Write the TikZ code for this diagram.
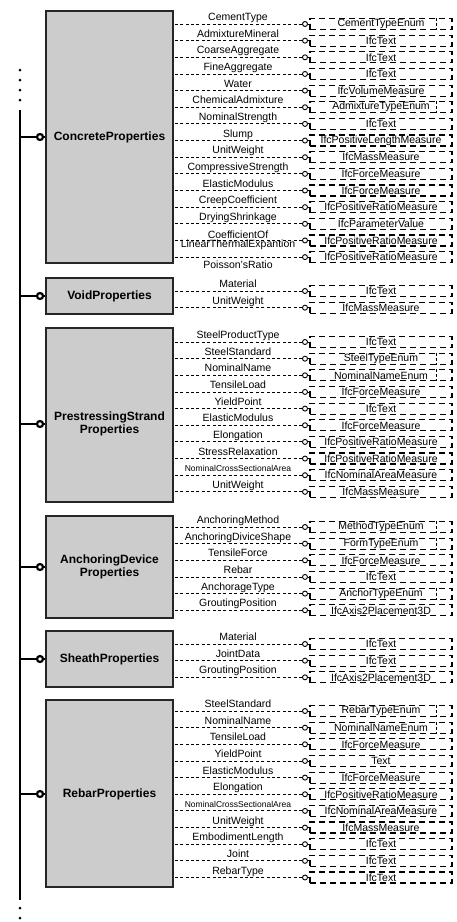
\documentclass[tikz,border=0pt]{standalone}
\usepackage{fontspec}
\setmainfont{Liberation Sans}

\newcommand{\narrowlab}{\fontsize{8.5}{9}\selectfont}

\tikzset{
  grpbox/.style={draw=black!85, line width=1.4pt, fill=black!20, minimum width=127pt, inner sep=0pt},
  grptitle/.style={font=\fontsize{12}{13.5}\selectfont\bfseries, align=center},
  hub/.style={circle, draw, line width=2.2pt, fill=white, minimum size=6pt, inner sep=0pt},
  branch/.style={line width=2.6pt},
  busline/.style={line width=2.8pt},
  busdots/.style={line width=3pt, line cap=round, dash pattern=on 0pt off 10pt},
  port/.style={circle, draw, line width=0.9pt, fill=white, minimum size=5pt, inner sep=0pt},
  attrline/.style={line width=0.9pt, dash pattern=on 3pt off 2.4pt},
  typebox/.style={draw, line width=1.2pt, dash pattern=on 6pt off 4pt, minimum width=142pt,
    minimum height=11pt, inner sep=0pt, font=\fontsize{10.5}{11}\selectfont},
  typeline/.style={line width=1.1pt, dash pattern=on 3pt off 2pt},
  attrlab/.style={inner sep=0pt, align=center, font=\fontsize{10.5}{9.5}\selectfont},
  attrup/.style={anchor=base, yshift=3.5pt},
  attrmid/.style={anchor=center},
  attrdown/.style={anchor=base, yshift=-11.5pt}
}

% rows of one property box: #1 prefix, #2 box node, #3 y of first row, #4 rows
\newcommand{\proprows}[4]{%
  \foreach \lab/\typ/\en/\where [count=\i] in {#4} {
    \pgfmathsetmacro{\yy}{#3+(\i-1)*16.65}
    \node[port] (#1c\i) at (305,\yy) {};
    \node[typebox] (#1t\i) at (381,\yy) {\typ};
    \node[attrlab,\where] (#1l\i) at (238,\yy) {\lab};
    \draw[attrline] (#1c\i) -- (#1c\i -| #2.east);
    \draw[line width=0.9pt] (#1c\i) -- (#1t\i);
    \ifnum\en=1
      \draw[typeline] ([xshift=-16pt]#1t\i.north east) -- ([xshift=-16pt]#1t\i.south east);
    \fi
  }}

\begin{document}
\begin{tikzpicture}[x=1pt, y=-1pt]
  \useasboundingbox (0,0) rectangle (456,922);

  % bus
  \coordinate (dottop) at (20,70);
  \coordinate (dotend) at (20,101);
  \coordinate (bustop) at (20,110);
  \coordinate (busbot) at (20,900);
  \coordinate (dotlow) at (20,908);
  \coordinate (dotbot) at (20,919);
  \draw[busdots] (dottop) -- (dotend);
  \draw[busline] (bustop) -- (busbot);
  \draw[busdots] (dotlow) -- (dotbot);

  % property boxes
  \node[grpbox, minimum height=252pt] (concrete) at (109.5,137) {};
  \node[grpbox, minimum height=36pt] (void) at (109.5,296) {};
  \node[grpbox, minimum height=174pt] (strand) at (109.5,415) {};
  \node[grpbox, minimum height=102pt] (anchor) at (109.5,567) {};
  \node[grpbox, minimum height=56pt] (sheath) at (109.5,659) {};
  \node[grpbox, minimum height=187pt] (rebar) at (109.5,793.5) {};

  \node[grptitle] (concretetitle) at (109.5,137) {ConcreteProperties};
  \node[grptitle] (voidtitle) at (109.5,296) {VoidProperties};
  \node[grptitle] (strandtitle) at (109.5,424) {PrestressingStrand\\Properties};
  \node[grptitle] (anchortitle) at (109.5,567) {AnchoringDevice\\Properties};
  \node[grptitle] (sheathtitle) at (109.5,659) {SheathProperties};
  \node[grptitle] (rebartitle) at (109.5,794) {RebarProperties};

  % branches to the bus
  \foreach \g/\y in {concrete/137, void/296, strand/424, anchor/567, sheath/659, rebar/794} {
    \node[hub] (\g hub) at (40,\y) {};
    \draw[branch] (\g hub) -- (\g hub -| bustop);
    \draw[branch] (\g hub) -- (\g hub -| \g.west);
  }

  % attributes
  \proprows{cp}{concrete}{24}{CementType/CementTypeEnum/1/attrup,
    AdmixtureMineral/IfcText/0/attrup,
    CoarseAggregate/IfcText/0/attrup,
    FineAggregate/IfcText/0/attrup,
    Water/IfcVolumeMeasure/0/attrup,
    ChemicalAdmixture/AdmixtureTypeEnum/1/attrup,
    NominalStrength/IfcText/0/attrup,
    Slump/IfcPositiveLengthMeasure/0/attrup,
    UnitWeight/IfcMassMeasure/0/attrup,
    CompressiveStrength/IfcForceMeasure/0/attrup,
    ElasticModulus/IfcForceMeasure/0/attrup,
    CreepCoefficient/IfcPositiveRatioMeasure/0/attrup,
    DryingShrinkage/IfcParameterValue/0/attrup,
    {CoefficientOf\\LinearThermalExpantion}/IfcPositiveRatioMeasure/0/attrmid,
    Poisson'sRatio/IfcPositiveRatioMeasure/0/attrdown}

  \proprows{vp}{void}{291}{Material/IfcText/0/attrup,
    UnitWeight/IfcMassMeasure/0/attrup}

  \proprows{sp}{strand}{342}{SteelProductType/IfcText/0/attrup,
    SteelStandard/SteelTypeEnum/1/attrup,
    NominalName/NominalNameEnum/1/attrup,
    TensileLoad/IfcForceMeasure/0/attrup,
    YieldPoint/IfcText/0/attrup,
    ElasticModulus/IfcForceMeasure/0/attrup,
    Elongation/IfcPositiveRatioMeasure/0/attrup,
    StressRelaxation/IfcPositiveRatioMeasure/0/attrup,
    {\narrowlab NominalCrossSectionalArea}/IfcNominalAreaMeasure/0/attrup,
    UnitWeight/IfcMassMeasure/0/attrup}

  \proprows{ap}{anchor}{527}{AnchoringMethod/MethodTypeEnum/1/attrup,
    AnchoringDiviceShape/FormTypeEnum/1/attrup,
    TensileForce/IfcForceMeasure/0/attrup,
    Rebar/IfcText/0/attrup,
    AnchorageType/AnchorTypeEnum/1/attrup,
    GroutingPosition/IfcAxis2Placement3D/0/attrup}

  \proprows{shp}{sheath}{644}{Material/IfcText/0/attrup,
    JointData/IfcText/0/attrup,
    GroutingPosition/IfcAxis2Placement3D/0/attrup}

  \proprows{rp}{rebar}{711}{SteelStandard/RebarTypeEnum/1/attrup,
    NominalName/NominalNameEnum/1/attrup,
    TensileLoad/IfcForceMeasure/0/attrup,
    YieldPoint/Text/0/attrup,
    ElasticModulus/IfcForceMeasure/0/attrup,
    Elongation/IfcPositiveRatioMeasure/0/attrup,
    {\narrowlab NominalCrossSectionalArea}/IfcNominalAreaMeasure/0/attrup,
    UnitWeight/IfcMassMeasure/0/attrup,
    EmbodimentLength/IfcText/0/attrup,
    Joint/IfcText/0/attrup,
    RebarType/IfcText/0/attrup}
\end{tikzpicture}
\end{document}
